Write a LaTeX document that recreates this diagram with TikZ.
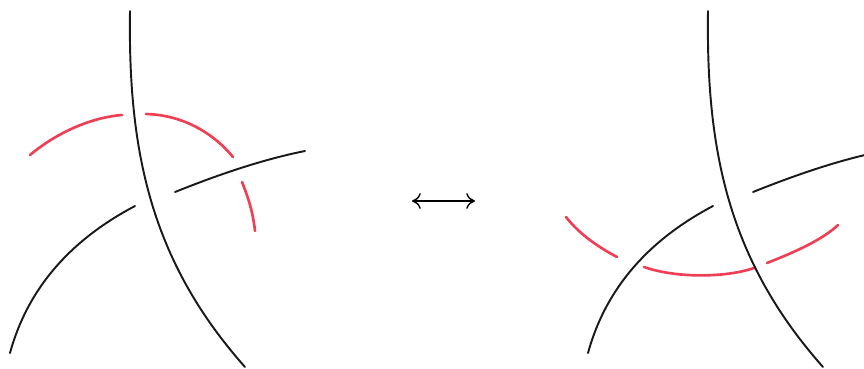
\documentclass[tikz,border=0pt]{standalone}
\usepackage{tikz}
\usetikzlibrary{arrows.meta}
\definecolor{knotred}{RGB}{240,62,84}
\tikzset{
    strand/.style={draw=black!90, line width=1.1pt, line cap=round},
    redstrand/.style={draw=knotred, line width=1.5pt, line cap=round},
    move/.style={line width=0.8pt, {Computer Modern Rightarrow[length=5pt,width=9pt]}-{Computer Modern Rightarrow[length=5pt,width=9pt]}}
}

\begin{document}
\begin{tikzpicture}[x=0.02cm, y=-0.02cm]
\useasboundingbox (0,0) rectangle (864,368);
\clip (0,0) rectangle (864,368);

% before
\draw[redstrand] (30,155) .. controls (60,130) and (95,117) .. (122,115);
\draw[redstrand] (146,114) .. controls (185,115) and (215,135) .. (233,157);
\draw[redstrand] (242,182) .. controls (248,197) and (253,212) .. (255,231);
\draw[strand] (10,353) .. controls (30,280) and (80,235) .. (135,206);
\draw[strand] (175,192) .. controls (215,176) and (260,160) .. (305,151);
\draw[strand] (130,11) .. controls (128,150) and (150,260) .. (245,367);

\coordinate (lmove) at (412,201);
\coordinate (rmove) at (475,201);
\draw[move] (lmove) -- (rmove);

% after
\begin{scope}[shift={(578,0)}]
\draw[redstrand] (-12,217) .. controls (2,235) and (22,248) .. (39,257);
\draw[redstrand] (66,267) .. controls (97,278) and (147,278) .. (176,268);
\draw[redstrand] (189,263) .. controls (217,252) and (244,240) .. (260,225);
\draw[strand] (10,353) .. controls (30,280) and (80,235) .. (135,206);
\draw[strand] (175,192) .. controls (215,176) and (260,160) .. (305,151);
\draw[strand] (130,11) .. controls (128,150) and (150,260) .. (245,367);
\end{scope}
\end{tikzpicture}
\end{document}
